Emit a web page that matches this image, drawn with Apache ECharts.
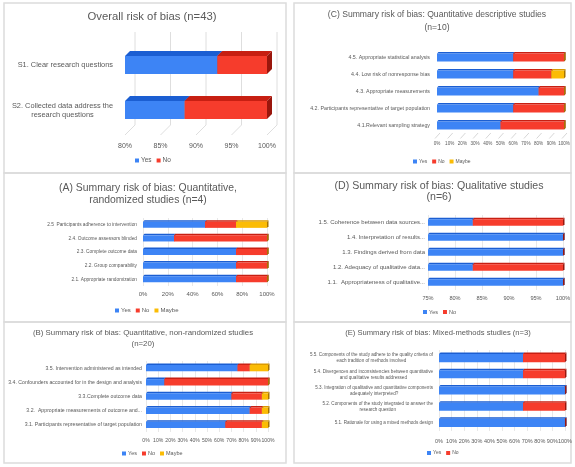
<!DOCTYPE html>
<html>
<head>
<meta charset="utf-8">
<script src="https://cdn.jsdelivr.net/npm/echarts/dist/echarts.min.js"></script>
<style>
  html, body { margin: 0; padding: 0; background: #fff; }
  #main { width: 575px; height: 467px; }
</style>
</head>
<body>
<div id="main"></div>
<script>
// ---- data (percent of studies) ----
var overallCats = ['S1. Clear research questions', 'S2. Collected data address the\nresearch questions'];
var overallYes = [93.0, 88.4];
var overallNo = [7.0, 11.6];
var overallTicks = [80, 85, 90, 95, 100];

var aCats = ['2.5  Participants adherence to intervention', '2.4. Outcome assessors blinded', '2.3. Complete outcome data', '2.2. Group comparability', '2.1. Appropriate randomization'];
var aYes = [50, 25, 75, 75, 75];
var aNo = [25, 75, 25, 25, 25];
var aMaybe = [25, 0, 0, 0, 0];

var bCats = ['3.5. Intervention administered as intended', '3.4. Confounders accounted for in the design and analysis', '3.3.Complete outcome data', '3.2.  Appropriate measurements of outcome and...', '3.1. Participants representative of target population'];
var bYes = [75, 15, 70, 85, 65];
var bNo = [10, 85, 25, 10, 30];
var bMaybe = [15, 0, 5, 5, 5];

var cCats = ['4.5. Appropriate statistical analysis', '4.4. Low risk of nonresponse bias', '4.3. Appropriate measurements', '4.2. Participants representative of target population', '4.1.Relevant sampling strategy'];
var cYes = [60, 60, 80, 60, 50];
var cNo = [40, 30, 20, 40, 50];
var cMaybe = [0, 10, 0, 0, 0];
var cTicks = [0, 10, 20, 30, 40, 50, 60, 70, 80, 90, 100];

var dCats = ['1.5. Coherence between data sources...', '1.4. Interpretation of results...', '1.3. Findings derived from data', '1.2. Adequacy of qualitative data...', '1.1.  Appropriateness of qualitative...'];
var dYes = [83.3, 100, 100, 83.3, 100];
var dNo = [16.7, 0, 0, 16.7, 0];

var eCats = ['5.5. Components of the study adhere to the quality criteria of\neach tradition of methods involved', '5.4. Divergences and inconsistencies between quantitative\nand qualitative results addressed', '5.3. Integration of qualitative and quantitative components\nadequately interpreted?', '5.2. Components of the study integrated to answer the\nresearch question', '5.1. Rationale for using a mixed methods design'];
var eYes = [66.7, 66.7, 100, 66.7, 100];
var eNo = [33.3, 33.3, 0, 33.3, 0];

// ---- styles ----
var FONT = 'Liberation Sans, Arial, sans-serif';
var TXT = '#595959';
var COLORS = {
  Yes: { front: '#3d84f5', top: '#1b5ed2', side: '#1648a6' },
  No: { front: '#f63c2c', top: '#c71f12', side: '#9a160c' },
  Maybe: { front: '#fbbc05', top: '#d99800', side: '#a67400' }
};

var panels = [
  { title: 'Overall risk of bias (n=43)', tx: 152, ty: 17, tsize: 11.3, cats: overallCats, series: { Yes: overallYes, No: overallNo },
    min: 80, max: 100, interval: 5, grid: { left: 125, right: 308, top: 42.5, height: 90 }, ratio: 0.4, depth: 5,
    lsize: 7.4, lh: 9, lmargin: 12, xsize: 7, xmargin: 10, legend: { left: 135, top: 157, size: 6.5 }, split: false },
  { title: '(A) Summary risk of bias: Quantitative,\nrandomized studies (n=4)', tx: 148, ty: 194, tsize: 10.4, tlh: 12.5, cats: aCats, series: { Yes: aYes, No: aNo, Maybe: aMaybe },
    min: 0, max: 100, interval: 20, grid: { left: 143, right: 308, top: 218, height: 68 }, ratio: 0.45, depth: 1.5,
    lsize: 4.8, lh: 6, lmargin: 6, xsize: 6, xmargin: 5, legend: { left: 115, top: 307.5, size: 6 }, split: true },
  { title: '(B) Summary risk of bias: Quantitative, non-randomized studies\n(n=20)', tx: 143, ty: 338.5, tsize: 7.85, tlh: 11, cats: bCats, series: { Yes: bYes, No: bNo, Maybe: bMaybe },
    min: 0, max: 100, interval: 10, grid: { left: 146, right: 307, top: 361, height: 71 }, ratio: 0.45, depth: 1.5,
    lsize: 5.2, lh: 6, lmargin: 4, xsize: 5.1, xmargin: 6, legend: { left: 122, top: 450.5, size: 5.5 }, split: true },
  { title: '(C) Summary risk of bias: Quantitative descriptive studies\n(n=10)', tx: 437, ty: 21.5, tsize: 8.6, tlh: 13, cats: cCats, series: { Yes: cYes, No: cNo, Maybe: cMaybe },
    min: 0, max: 100, interval: 10, grid: { left: 437, right: 11, top: 49, height: 85 }, ratio: 0.47, depth: 1.5,
    lsize: 5.3, lh: 6, lmargin: 7, xsize: 4.6, xmargin: 7, legend: { left: 413, top: 159, size: 5 }, split: false },
  { title: '(D) Summary risk of bias: Qualitative studies\n(n=6)', tx: 439, ty: 191.5, tsize: 10.6, tlh: 11.5, cats: dCats, series: { Yes: dYes, No: dNo },
    min: 75, max: 100, interval: 5, grid: { left: 428, right: 12, top: 215, height: 75 }, ratio: 0.43, depth: 1.5,
    lsize: 6, lh: 7, lmargin: 3, xsize: 5.6, xmargin: 5, legend: { left: 423, top: 309, size: 5.5 }, split: true },
  { title: '(E) Summary risk of bias: Mixed-methods studies (n=3)', tx: 438, ty: 333, tsize: 7.6, cats: eCats, series: { Yes: eYes, No: eNo },
    min: 0, max: 100, interval: 10, grid: { left: 439, right: 8, top: 350, height: 81 }, ratio: 0.5, depth: 1.5,
    lsize: 4.6, lh: 6, lmargin: 6, xsize: 5.5, xmargin: 7, legend: { left: 427, top: 450.5, size: 5 }, split: true }
];

// 3D-ish stacked bar segment
function render3d(c, depth, ratio, xMin) {
  return function (params, api) {
    var cat = api.value(0);
    var s = Math.max(api.value(1), xMin), e = api.value(2);
    var p0 = api.coord([s, cat]), p1 = api.coord([e, cat]);
    var h = api.size([0, 1])[1] * ratio;
    var top = p0[1] - h / 2, bot = p0[1] + h / 2;
    var x0 = p0[0], x1 = p1[0], d = depth;
    var kids = [];
    if (x1 > x0) {
      kids.push({ type: 'polygon', shape: { points: [[x0, top], [x1, top], [x1 + d, top - d], [x0 + d, top - d]] }, style: { fill: c.top } });
      kids.push({ type: 'rect', shape: { x: x0, y: top, width: x1 - x0, height: h }, style: { fill: c.front } });
    }
    kids.push({ type: 'polygon', shape: { points: [[x1, top], [x1 + d, top - d], [x1 + d, bot - d], [x1, bot]] }, style: { fill: c.side } });
    return { type: 'group', children: kids };
  };
}

var option = {
  animation: false,
  grid: [], xAxis: [], yAxis: [], series: [], legend: [], graphic: []
};

// panel frames
[[4, 3, 282, 170], [4, 173, 282, 149], [4, 322, 282, 141], [294, 3, 277, 170], [294, 173, 277, 149], [294, 322, 277, 141]].forEach(function (r) {
  option.graphic.push({ type: 'rect', shape: { x: r[0], y: r[1], width: r[2], height: r[3] }, style: { fill: 'none', stroke: '#dcdcdc', lineWidth: 1.5 }, z: -1 });
});

panels.forEach(function (p, gi) {
  option.grid.push({ left: p.grid.left, right: p.grid.right, top: p.grid.top, height: p.grid.height });
  option.xAxis.push({
    type: 'value', gridIndex: gi, min: p.min, max: p.max, interval: p.interval,
    axisLine: { show: false }, axisTick: { show: false },
    splitLine: { show: p.split, lineStyle: { color: '#e8e8e8', width: 1 } },
    axisLabel: { formatter: '{value}%', fontSize: p.xsize, fontFamily: FONT, color: TXT, margin: p.xmargin,
      showMinLabel: true, showMaxLabel: true, hideOverlap: false }
  });
  option.yAxis.push({
    type: 'category', gridIndex: gi, inverse: true, data: p.cats,
    axisLine: { show: false }, axisTick: { show: false }, splitLine: { show: false },
    axisLabel: {
      margin: p.lmargin, interval: 0,
      formatter: function (v) { return v.split('\n').map(function (l) { return '{c|' + l + '}'; }).join('\n'); },
      rich: { c: { align: 'center', fontSize: p.lsize, lineHeight: p.lh, fontFamily: FONT, color: TXT } }
    }
  });

  var names = Object.keys(p.series);
  var acc = p.cats.map(function () { return 0; });
  names.forEach(function (name) {
    var vals = p.series[name];
    var data = vals.map(function (v, i) { var d = [i, acc[i], acc[i] + v]; acc[i] += v; return d; });
    option.series.push({
      type: 'custom', name: name, xAxisIndex: gi, yAxisIndex: gi, z: 3,
      itemStyle: { color: COLORS[name].front },
      encode: { x: [1, 2], y: 0 },
      renderItem: render3d(COLORS[name], p.depth, p.ratio, p.min),
      data: data
    });
  });

  option.legend.push({
    data: names, left: p.legend.left, top: p.legend.top, padding: 0,
    icon: 'rect', itemWidth: 4, itemHeight: 4, itemGap: 5,
    textStyle: { fontSize: p.legend.size, fontFamily: FONT, color: TXT, padding: [0, 0, 0, -3] }
  });

  option.graphic.push({
    type: 'text', x: p.tx, y: p.ty, z: 5,
    style: { text: p.title, textAlign: 'center', textVerticalAlign: 'middle', fontSize: p.tsize, lineHeight: p.tlh || p.tsize, fontFamily: FONT, fill: TXT }
  });
});

// perspective grid of the overall panel (back wall + floor)
option.series.push({
  type: 'custom', name: 'wall', xAxisIndex: 0, yAxisIndex: 0, z: 1, silent: true,
  encode: { x: 0, y: 1 },
  data: overallTicks.map(function (t) { return [t, 0]; }),
  renderItem: function (params, api) {
    var x = api.coord([api.value(0), 0])[0];
    return { type: 'polyline', shape: { points: [[x + 10, 32], [x + 10, 125], [x, 135]] }, style: { stroke: '#dedede', lineWidth: 1, fill: null } };
  }
});
// floor hatches of panel C
option.series.push({
  type: 'custom', name: 'floorC', xAxisIndex: 3, yAxisIndex: 3, z: 1, silent: true,
  encode: { x: 0, y: 1 },
  data: cTicks.map(function (t) { return [t, 0]; }),
  renderItem: function (params, api) {
    var x = api.coord([api.value(0), 0])[0];
    return { type: 'line', shape: { x1: x + 3, y1: 133, x2: x - 2, y2: 138.5 }, style: { stroke: '#d6d6d6', lineWidth: 1 } };
  }
});

var chart = echarts.init(document.getElementById('main'), null, { renderer: 'canvas' });
chart.setOption(option);
</script>
</body>
</html>
